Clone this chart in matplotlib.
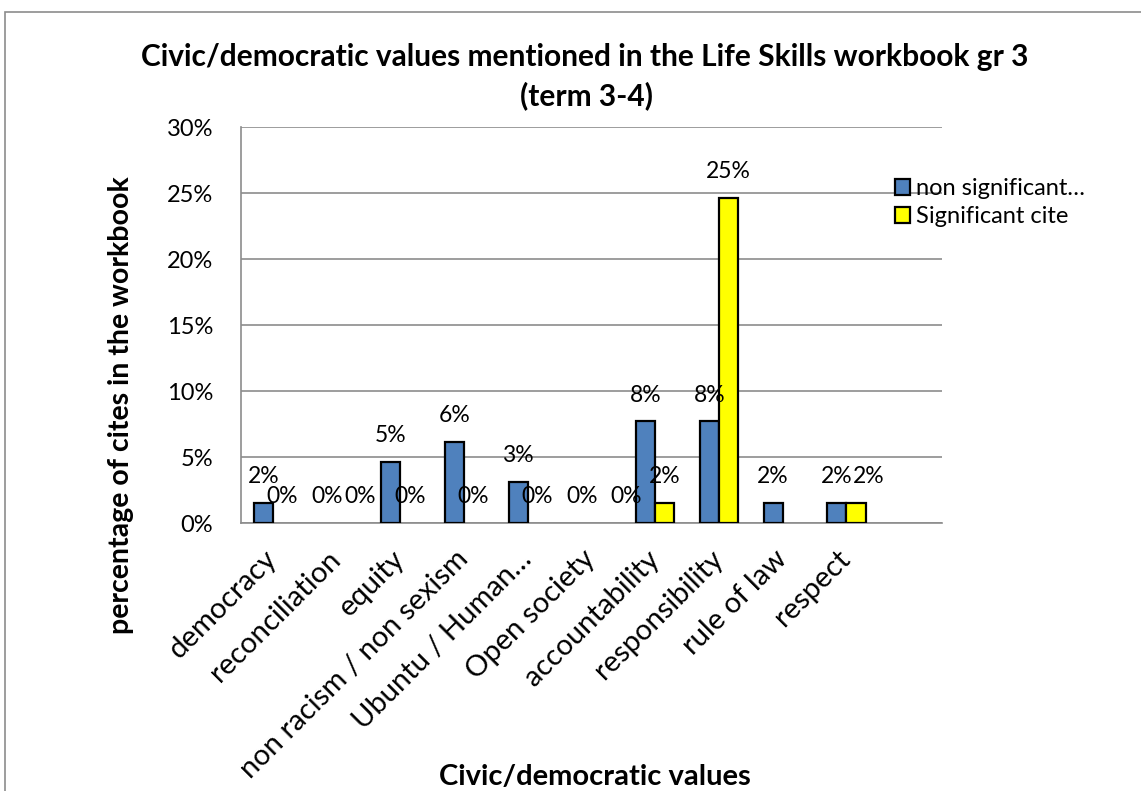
import numpy as np
import matplotlib.pyplot as plt
from matplotlib.patches import Rectangle, Patch

plt.rcParams['font.family'] = ['Lato', 'DejaVu Sans']

# the category axis carries one trailing empty slot
categories = ["democracy", "reconciliation", "equity", "non racism / non sexism",
              "Ubuntu / Human…", "Open society", "accountability",
              "responsibility", "rule of law", "respect", ""]
non_significant = [1.54, 0.0, 4.62, 6.15, 3.08, 0.0, 7.69, 7.69, 1.54, 1.54, np.nan]
significant = [0.0, 0.0, 0.0, 0.0, 0.0, 0.0, 1.54, 24.62, np.nan, 1.54, np.nan]
series_names = ["non significant…", "Significant cite"]
series_colors = ['#4F81BD', '#FFFF00']
yticks = [0, 5, 10, 15, 20, 25, 30]

fig = plt.figure(figsize=(11.41, 7.91), dpi=100)
ax = fig.add_axes([241 / 1141, 1 - 523 / 791, (942 - 241) / 1141, (523 - 127) / 791])

# outer chart frame
fig.patches.append(Rectangle((5 / 1141, -0.1), 1.2, 1 - 12 / 791 + 0.1,
                             transform=fig.transFigure, fill=False,
                             edgecolor='#8c8c8c', linewidth=1.2))

x = np.arange(len(categories))
w = 0.30


def draw_series(xpos, values, color, name):
    vals = np.nan_to_num(np.asarray(values, dtype=float))
    bars = ax.bar(xpos, vals, w, color=color, edgecolor='black',
                  linewidth=1.6, label=name, zorder=3)
    for b, v in zip(bars, vals):
        if v == 0:
            b.set_linewidth(0)
    return bars


draw_series(x - w / 2, non_significant, series_colors[0], series_names[0])
draw_series(x + w / 2, significant, series_colors[1], series_names[1])

# small horizontal nudges (points) keep a few neighbouring labels apart
nudge_sig = {1: 10, 5: 18, 9: 9}

for i, (xi, v) in enumerate(zip(x - w / 2, non_significant)):
    if np.isnan(v):
        continue
    ax.annotate(f"{v:.0f}%", (xi, v), xytext=(0, 19), textcoords='offset points',
                ha='center', va='center', fontsize=16.5, zorder=5)
for i, (xi, v) in enumerate(zip(x + w / 2, significant)):
    if np.isnan(v):
        continue
    ax.annotate(f"{v:.0f}%", (xi, v), xytext=(nudge_sig.get(i, 0), 19),
                textcoords='offset points',
                ha='center', va='center', fontsize=16.5, zorder=5)

ax.set_xlim(-0.5, len(categories) - 0.5)
ax.set_ylim(0, 30)
ax.set_yticks(yticks)
ax.set_yticklabels([f"{t}%" for t in yticks], fontsize=17)
ax.tick_params(axis='y', length=0, pad=20)
ax.tick_params(axis='x', length=0, pad=23)
ax.set_xticks(x)
ax.set_xticklabels(categories, rotation=45, ha='right', va='center',
                   rotation_mode='anchor', fontsize=21)
ax.grid(axis='y', color='#8c8c8c', linewidth=1.2, zorder=0)
for s in ['top', 'right']:
    ax.spines[s].set_visible(False)
for s in ['left', 'bottom']:
    ax.spines[s].set_color('#8c8c8c')
    ax.spines[s].set_linewidth(1.2)

fig.text(585 / 1141, 1 - 57 / 791,
         "Civic/democratic values mentioned in the Life Skills workbook gr 3",
         ha='center', va='center', fontsize=21.5, fontweight='bold')
fig.text(587 / 1141, 1 - 96 / 791, "(term 3-4)",
         ha='center', va='center', fontsize=21.5, fontweight='bold')
fig.text(595 / 1141, 1 - 777 / 791, "Civic/democratic values", ha='center', va='center',
         fontsize=21, fontweight='bold')
fig.text(121 / 1141, 1 - 405 / 791, "percentage of cites in the workbook", ha='center',
         va='center', rotation=90, fontsize=20.5, fontweight='bold')

handles = [Patch(facecolor=c, edgecolor='black', linewidth=1.6) for c in series_colors]
fig.legend(handles=handles, labels=series_names, loc='upper left',
           bbox_to_anchor=(895 / 1141, 1 - 178 / 791), frameon=False, fontsize=17,
           handlelength=0.65, handleheight=0.65, handletextpad=0.25, labelspacing=0.3,
           borderpad=0, borderaxespad=0)

fig.savefig("out.png", dpi=100)
